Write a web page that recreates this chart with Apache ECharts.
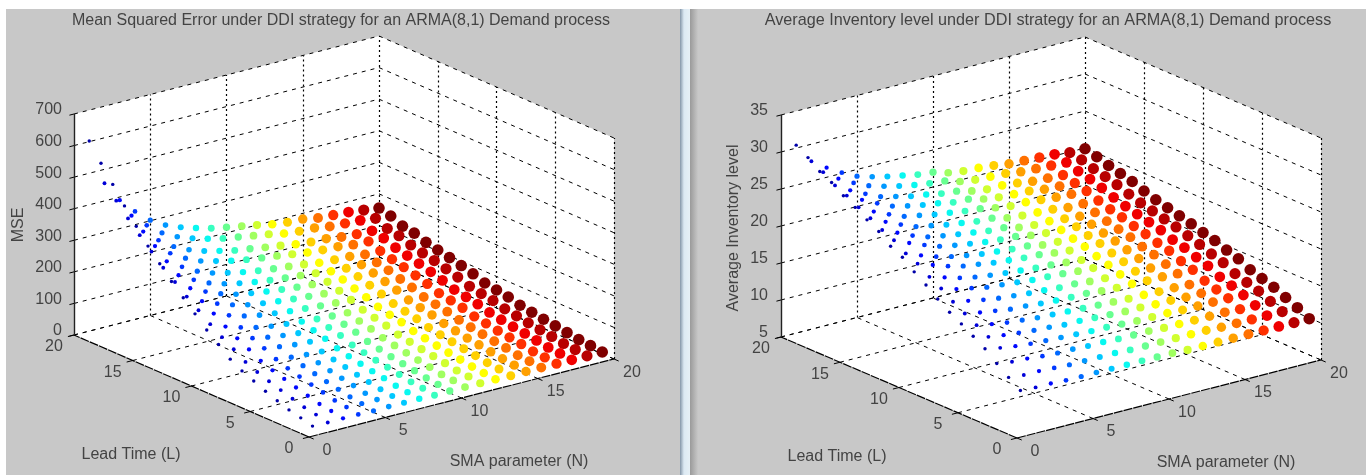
<!DOCTYPE html>
<html>
<head>
<meta charset="utf-8">
<style>html,body{margin:0;padding:0;background:#fff}#chart{width:1366px;height:475px}</style>
<script src="https://cdn.jsdelivr.net/npm/echarts@6/dist/echarts.min.js"></script>
</head>
<body>
<div id="chart"></div>
<script>
// Values by row: each inner list is one lead time L = 1..20, with N = 1..20 across.
const smaParameter = [1,2,3,4,5,6,7,8,9,10,11,12,13,14,15,16,17,18,19,20];
const leadTime = [1,2,3,4,5,6,7,8,9,10,11,12,13,14,15,16,17,18,19,20];

const mseValues = [
[6,5,6,6,5,6,6,6,5,6,6,6,6,5,6,6,6,6,6,6],
[16,14,13,13,12,12,11,11,11,11,11,11,10,10,10,10,10,10,10,10],
[25,21,19,18,17,16,16,15,15,15,14,14,14,14,14,13,13,13,13,13],
[38,32,29,27,25,24,23,23,22,22,21,21,20,20,20,20,20,19,19,19],
[52,43,39,36,33,31,30,29,29,28,27,27,26,26,26,25,25,25,24,24],
[68,55,50,45,42,39,38,36,35,34,34,33,32,32,31,31,30,30,30,29],
[84,68,61,55,51,48,46,44,43,42,41,40,39,38,38,37,37,36,36,35],
[105,84,75,68,62,58,55,53,51,50,49,47,46,45,45,44,43,43,42,41],
[135,108,95,86,79,73,70,67,65,63,61,59,58,56,56,54,54,53,52,51],
[165,130,114,102,93,86,81,78,74,72,70,68,65,64,63,61,61,60,58,57],
[200,155,135,120,108,99,94,89,85,82,80,77,74,72,71,68,68,67,65,63],
[235,183,160,142,128,118,112,106,102,98,95,92,88,86,86,82,81,80,78,76],
[270,210,183,163,147,135,127,121,116,112,108,105,100,98,97,93,92,91,88,86],
[310,240,208,185,166,152,143,136,130,125,121,117,112,109,108,104,102,101,98,95],
[350,269,233,206,184,169,158,150,143,138,133,128,122,119,118,113,111,110,106,103],
[397,304,261,231,205,187,175,165,157,151,146,140,133,130,128,122,121,119,115,111],
[445,340,293,258,230,209,196,185,176,169,163,156,149,145,143,137,135,133,128,124],
[497,377,323,283,251,228,212,200,189,182,174,167,159,154,152,145,142,140,135,130],
[548,417,357,314,278,253,236,222,211,203,195,187,177,172,170,162,160,157,151,146],
[602,456,390,342,302,274,255,240,227,218,209,200,190,184,182,173,170,167,161,155]
];

const inventoryValues = [
[10.2,10.1,10.1,10,10,10,10,10,10,10,10,9.9,9.9,9.9,9.9,9.9,9.9,9.9,9.9,9.9],
[11.3,11.1,11.1,11,10.9,10.9,10.9,10.9,10.8,10.8,10.8,10.8,10.8,10.8,10.7,10.7,10.7,10.7,10.7,10.7],
[12.5,12.2,12.1,11.9,11.8,11.8,11.7,11.7,11.6,11.6,11.6,11.5,11.5,11.5,11.5,11.5,11.4,11.4,11.4,11.4],
[13.8,13.4,13.1,12.9,12.8,12.7,12.6,12.5,12.5,12.4,12.3,12.3,12.3,12.2,12.2,12.2,12.2,12.1,12.1,12.1],
[14.8,14.2,13.9,13.7,13.5,13.4,13.2,13.2,13.1,13,12.9,12.9,12.8,12.8,12.7,12.7,12.7,12.7,12.6,12.6],
[15.8,15.1,14.7,14.4,14.2,14,13.9,13.8,13.7,13.6,13.5,13.4,13.4,13.3,13.3,13.2,13.2,13.2,13.1,13.1],
[16.7,16,15.6,15.3,15,14.9,14.7,14.6,14.5,14.5,14.3,14.2,14.2,14.1,14.1,14,14,14,13.9,13.9],
[17.8,16.9,16.5,16.1,15.8,15.6,15.4,15.3,15.1,15.1,14.9,14.8,14.8,14.7,14.6,14.6,14.5,14.5,14.4,14.4],
[19,18,17.4,17,16.6,16.4,16.2,16,15.9,15.8,15.6,15.5,15.4,15.3,15.2,15.2,15.2,15.1,15,15],
[20.1,18.9,18.3,17.7,17.3,17,16.8,16.6,16.4,16.3,16.1,15.9,15.9,15.8,15.7,15.6,15.6,15.5,15.5,15.4],
[21.4,20,19.3,18.6,18.1,17.8,17.5,17.3,17.1,17,16.7,16.5,16.5,16.4,16.2,16.2,16.1,16.1,16,15.9],
[22.2,20.7,19.9,19.2,18.7,18.3,18,17.8,17.6,17.5,17.1,17,16.9,16.8,16.6,16.6,16.5,16.5,16.4,16.3],
[23.5,21.8,20.9,20.1,19.4,19,18.7,18.4,18.2,18.1,17.7,17.5,17.4,17.3,17.1,17,17,16.9,16.8,16.7],
[24.4,22.5,21.6,20.7,20,19.6,19.3,19,18.7,18.6,18.1,17.9,17.9,17.7,17.5,17.5,17.4,17.3,17.2,17.1],
[25.4,23.4,22.4,21.5,20.7,20.3,19.9,19.6,19.3,19.2,18.7,18.5,18.4,18.3,18,18,17.9,17.8,17.7,17.6],
[26.3,24.2,23.1,22.2,21.4,21,20.6,20.3,20,19.8,19.4,19.1,19.1,18.9,18.7,18.6,18.5,18.4,18.3,18.2],
[27.4,25.1,24,23,22.1,21.6,21.2,20.9,20.5,20.4,19.9,19.6,19.5,19.4,19.1,19,18.9,18.9,18.7,18.6],
[28.2,25.8,24.6,23.6,22.7,22.2,21.7,21.4,21,20.8,20.3,20,20,19.8,19.5,19.4,19.3,19.3,19.1,19],
[29.4,26.9,25.5,24.4,23.5,22.9,22.4,22,21.7,21.5,20.9,20.6,20.5,20.4,20.1,20,19.9,19.8,19.6,19.5],
[30.4,27.7,26.3,25.1,24.1,23.5,23,22.6,22.2,22,21.4,21.1,21,20.8,20.5,20.4,20.3,20.2,19.9,19.9]
];

const groundTicks = [0,5,10,15,20];
const mseTicks = [0,100,200,300,400,500,600,700];
const inventoryTicks = [5,10,15,20,25,30,35];

// Jet colour ramp, one entry per value of N.
const jetRamp = ['#0000a8','#0000d8','#0008ff','#0038ff','#0068ff','#0098ff','#00c8ff','#08f8f0','#38ffc0','#68ff90','#a0ff60','#d0ff30','#ffff00','#ffd000','#ffa000','#ff7000','#ff3000','#f00000','#b80000','#800000'];

// Oblique projection frame of each panel: front floor corner, full-range vectors, box height.
const panels = [
  {values: mseValues, zTicks: mseTicks, origin: [309,437], nVec: [305,-78], lVec: [-235,-102], height: 221,
   zLabelX: 62, title: 'Mean Squared Error under DDI strategy for an ARMA(8,1) Demand process', titleX: 341, titleSize: 16,
   zName: 'MSE', zNameAt: [19,225], leadAt: [131,455], smaAt: [519,462]},
  {values: inventoryValues, zTicks: inventoryTicks, origin: [1017,438], nVec: [304,-78], lVec: [-236,-101], height: 222,
   zLabelX: 768, title: 'Average Inventory level under DDI strategy for an ARMA(8,1) Demand process', titleX: 1048, titleSize: 16.2,
   zName: 'Average Inventory level', zNameAt: [734,228], leadAt: [837,457], smaAt: [1226,463]}
];

const textStyle = {fontFamily: '"Liberation Sans", Arial, sans-serif', fontSize: 16, color: '#222'};

function projector(p) {
  const zMin = p.zTicks[0], zMax = p.zTicks[p.zTicks.length - 1];
  return (n, l, z) => {
    const a = n / 20, b = l / 20, c = (z - zMin) / (zMax - zMin);
    return [p.origin[0] + a * p.nVec[0] + b * p.lVec[0],
            p.origin[1] + a * p.nVec[1] + b * p.lVec[1] - c * p.height];
  };
}

function linesSeries(segments, lineStyle, z) {
  return {type: 'lines', coordinateSystem: 'cartesian2d', polyline: false, silent: true, z,
    lineStyle: Object.assign({color: '#000', width: 1, opacity: 1}, lineStyle),
    data: segments.map(coords => ({coords}))};
}

function labelSeries(items) {
  return {type: 'scatter', symbolSize: 0, silent: true, z: 6,
    data: items.map(t => ({value: t.at, name: t.text,
      label: Object.assign({}, textStyle, {show: true, formatter: t.text, position: 'inside', align: t.align || 'center', verticalAlign: 'middle', rotate: t.rotate || 0, fontSize: t.size || 16})}))};
}

function buildPanel(p) {
  const P = projector(p);
  const zMin = p.zTicks[0], zMax = p.zTicks[p.zTicks.length - 1];
  const walls = [P(0,0,zMin), P(20,0,zMin), P(20,0,zMax), P(20,20,zMax), P(0,20,zMax), P(0,20,zMin)];
  const wall = {type: 'custom', silent: true, z: 1, coordinateSystem: 'cartesian2d', data: [0],
    renderItem: (params, api) => ({type: 'polygon', shape: {points: walls.map(q => api.coord(q))}, style: {fill: '#fff'}})};

  const wallHoriz = [], uprights = [], floor = [], ticks = [], frame = [];
  p.zTicks.forEach(z => {
    wallHoriz.push([P(0,20,z), P(20,20,z)], [P(20,20,z), P(20,0,z)]);
    ticks.push([P(0,20,z), P(-0.3,20,z)]);
  });
  groundTicks.forEach(t => {
    if (t > 0) uprights.push([P(t,20,zMin), P(t,20,zMax)]);
    if (t < 20) uprights.push([P(20,t,zMin), P(20,t,zMax)]);
    if (t > 0 && t < 20) floor.push([P(t,0,zMin), P(t,20,zMin)], [P(0,t,zMin), P(20,t,zMin)]);
    ticks.push([P(t,0,zMin), P(t,-0.4,zMin)], [P(0,t,zMin), P(-0.4,t,zMin)]);
  });
  floor.push([P(0,20,zMin), P(20,20,zMin)], [P(20,20,zMin), P(20,0,zMin)]);
  frame.push([P(0,0,zMin), P(20,0,zMin)], [P(0,0,zMin), P(0,20,zMin)]);

  const points = [];
  for (let li = leadTime.length - 1; li >= 0; li--) {
    smaParameter.forEach((n, ni) => {
      points.push({value: P(n, leadTime[li], p.values[li][ni]),
        itemStyle: {color: jetRamp[ni], opacity: 1}, symbolSize: 3 + 0.43 * n});
    });
  }
  const marks = {type: 'scatter', silent: true, z: 5, symbol: 'circle', data: points};

  const labels = [];
  p.zTicks.forEach(z => {
    const q = P(0,20,z);
    labels.push({text: String(z), at: [p.zLabelX, q[1] - 4], align: 'right'});
  });
  groundTicks.forEach(t => {
    const a = P(0,t,zMin), b = P(t,0,zMin);
    labels.push({text: String(t), at: [a[0] - 20, a[1] + 12]});
    labels.push({text: String(t), at: [b[0] + 18, b[1] + 13.5]});
  });
  labels.push({text: p.title, at: [p.titleX, 21], size: p.titleSize});
  labels.push({text: 'Lead Time (L)', at: p.leadAt});
  labels.push({text: 'SMA parameter (N)', at: p.smaAt});
  labels.push({text: p.zName, at: p.zNameAt, rotate: 90});

  return [wall,
    linesSeries(wallHoriz, {type: [4,5]}, 2),
    linesSeries(uprights, {type: [2,3], width: 1.2}, 2),
    linesSeries(floor, {type: [4,5]}, 2),
    linesSeries(frame, {type: [9,1], width: 1.2}, 3),
    linesSeries(ticks, {}, 3),
    linesSeries([[P(0,20,zMin), P(0,20,zMax)]], {color: '#222', width: 1.4}, 3),
    marks, labelSeries(labels)];
}

const chart = echarts.init(document.getElementById('chart'), null, {renderer: 'canvas'});
chart.setOption({
  animation: false,
  backgroundColor: '#fff',
  graphic: [
    {type: 'rect', z: -1, shape: {x: 6, y: 9, width: 674, height: 466}, style: {fill: '#c8c8c8'}},
    {type: 'rect', z: -1, shape: {x: 690, y: 9, width: 676, height: 466},
     style: {fill: {type: 'linear', x: 0, y: 0, x2: 1, y2: 0, colorStops: [
       {offset: 0, color: '#9a9a9a'}, {offset: 0.012, color: '#c8c8c8'}, {offset: 1, color: '#c8c8c8'}]}}},
    {type: 'rect', z: -1, shape: {x: 680, y: 9, width: 10, height: 466},
     style: {fill: {type: 'linear', x: 0, y: 0, x2: 1, y2: 0, colorStops: [
       {offset: 0, color: '#8496a8'}, {offset: 0.4, color: '#dce9f3'}, {offset: 1, color: '#e6f0f6'}]}}}
  ],
  grid: {left: 0, right: 0, top: 0, bottom: 0},
  xAxis: {type: 'value', min: 0, max: 1366, show: false},
  yAxis: {type: 'value', min: 0, max: 475, inverse: true, show: false},
  series: panels.flatMap(buildPanel)
});
</script>
</body>
</html>
